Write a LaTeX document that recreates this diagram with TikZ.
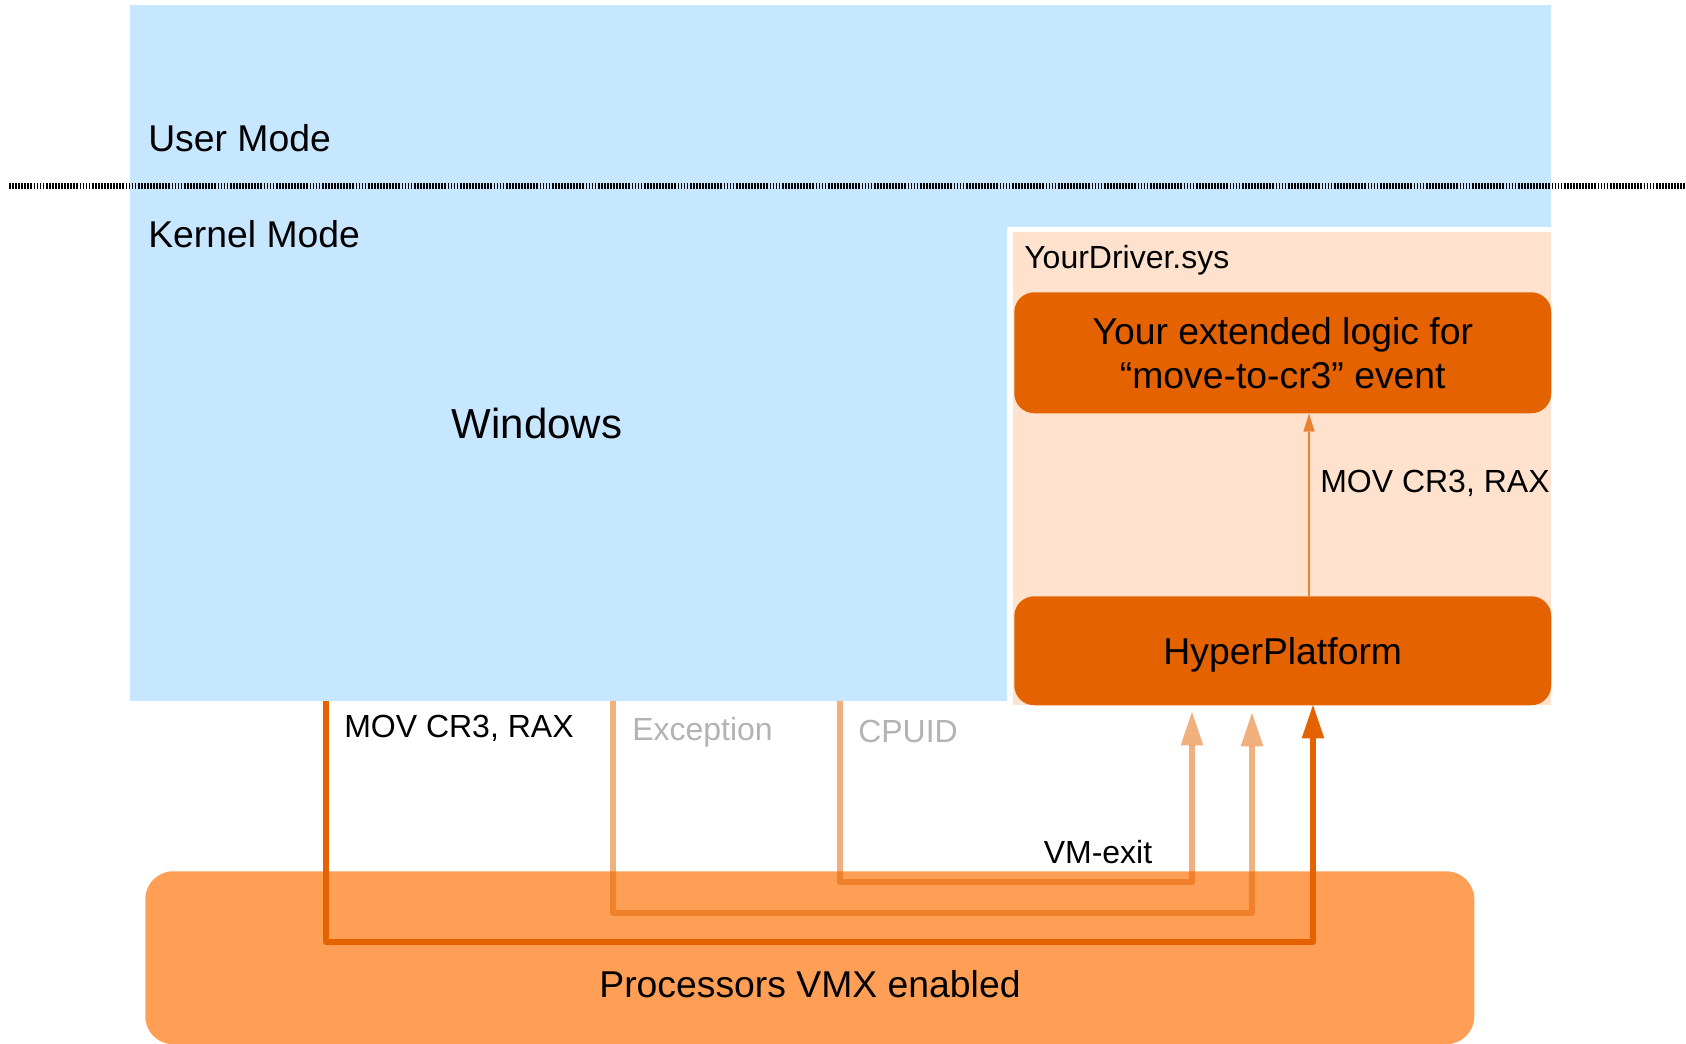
\documentclass[tikz,border=0pt]{standalone}
\usepackage{fontspec}
\setmainfont{Liberation Sans}
\usetikzlibrary{calc,arrows.meta}
\definecolor{modeblue}{RGB}{199,230,255}
\definecolor{drvpeach}{RGB}{254,226,205}
\definecolor{hvorange}{RGB}{228,99,0}
\definecolor{cpuorange}{RGB}{254,159,85}
\definecolor{muted}{RGB}{179,179,179}
\tikzset{
  big/.style={font=\fontsize{28}{33}\selectfont},
  small/.style={font=\fontsize{24}{28}\selectfont},
  box/.style={big, fill=hvorange, rounded corners=15pt, anchor=north west,
    minimum width=402.75pt, align=center, inner sep=0pt, text depth=0pt},
  lbl/.style={small, anchor=base west, inner sep=0pt},
  exitline/.style={hvorange, line width=4.7pt, line join=round,
    -{Triangle[length=25pt,width=17pt,line width=0pt]}},
  ghost/.style={exitline, draw opacity=0.5, fill opacity=0.5},
  sep/.style={black, line width=4.5pt, dash pattern=on 1.3pt off 1pt},
}
\begin{document}
\begin{tikzpicture}[x=0.75pt,y=-0.75pt]
  \useasboundingbox (0,0) rectangle (1686,1044);
  \fill[modeblue] (130,5) rectangle (1551,227);
  \fill[modeblue] (130,227) rectangle (1007,701);
  \fill[white] (1007,227) rectangle (1551,705);
  \fill[drvpeach] (1013,232) rectangle (1551,705);
  \node[fill=cpuorange, rounded corners=21pt, anchor=north west,
    minimum width=996.75pt, minimum height=129.75pt] (cpu) at (145,871) {};

  \coordinate (sepl) at (9,186);
  \coordinate (sepr) at (1686,186);
  \draw[sep] (sepl) -- (sepr);

  \node[big, anchor=base west, inner sep=0pt] (user) at (148,152) {User Mode};
  \node[big, anchor=base west, inner sep=0pt] (kern) at (148,248) {Kernel Mode};
  \node[font=\fontsize{31.5}{36}\selectfont, anchor=base, inner sep=0pt] (win) at (537,439) {Windows};
  \node[lbl] (drv) at (1024,269) {YourDriver.sys};
  \node[box, minimum height=90.75pt] (logic) at (1014,292) {Your extended logic for\\“move-to-cr3” event};
  \node[box, minimum height=81.75pt] (hyper) at (1014,596) {HyperPlatform};
  \node[big, anchor=base, inner sep=0pt] (vmx) at (810,997) {Processors VMX enabled};

  \coordinate (cr3) at (1309,500);
  \draw[hvorange!80, line width=1.5pt, -{Triangle[length=13.5pt,width=8.5pt,line width=0pt]}]
    (cr3 |- hyper.north) -- (cr3 |- logic.south);
  \node[lbl] (cr3lbl) at (1320,493) {MOV CR3, RAX};

  \coordinate (mov) at (326,701);
  \coordinate (exc) at (613,701);
  \coordinate (cpuid) at (840,701);
  \coordinate (in1) at (1313,705);
  \coordinate (in2) at (1252,713);
  \coordinate (in3) at (1192,712);
  \draw[ghost] (cpuid) -- ++(0,181) -| (in3);
  \draw[ghost] (exc) -- ++(0,212) -| (in2);
  \draw[exitline] (mov) -- ++(0,241) -| (in1);

  \node[lbl] (movlbl) at (344,737) {MOV CR3, RAX};
  \node[lbl, muted] (exclbl) at (632,740) {Exception};
  \node[lbl, muted] (cpuidlbl) at (858,742) {CPUID};
  \node[lbl, anchor=base] (exit) at (1098,863) {VM-exit};
\end{tikzpicture}
\end{document}
